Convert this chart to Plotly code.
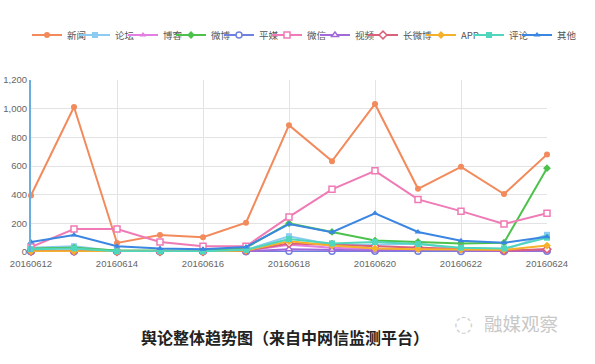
import plotly.graph_objects as go

dates = ["20160612", "20160613", "20160614", "20160615", "20160616", "20160617", "20160618",
         "20160619", "20160620", "20160621", "20160622", "20160623", "20160624"]

news = [395, 1012, 63, 118, 103, 204, 885, 634, 1033, 441, 594, 404, 681]
forum = [30, 40, 5, 5, 5, 15, 110, 50, 50, 60, 20, 15, 120]
blog = [10, 10, 3, 3, 3, 8, 50, 30, 20, 15, 10, 5, 20]
weibo = [25, 30, 10, 10, 10, 30, 200, 140, 80, 70, 60, 65, 585]
print_media = [2, 2, 2, 2, 2, 2, 5, 5, 5, 5, 3, 3, 5]
wechat = [35, 160, 160, 70, 40, 40, 245, 437, 566, 367, 285, 195, 270]
video = [3, 5, 2, 2, 2, 5, 20, 15, 10, 15, 10, 5, 10]
long_weibo = [5, 5, 3, 3, 3, 10, 60, 50, 40, 35, 25, 10, 20]
app = [5, 5, 3, 3, 3, 10, 75, 45, 25, 20, 15, 15, 45]
comment = [20, 25, 5, 5, 5, 15, 90, 60, 70, 55, 30, 25, 100]
other = [70, 118, 40, 25, 20, 35, 195, 138, 270, 140, 78, 64, 106]

# name, values, colour, marker symbol, hollow marker
series = [
    ("新闻", news, "#f28a5c", "circle", False),
    ("论坛", forum, "#8ccbf2", "square", False),
    ("博客", blog, "#e27fe0", "triangle-up", False),
    ("微博", weibo, "#4cc24c", "diamond", False),
    ("平媒", print_media, "#6f80e0", "circle", True),
    ("微信", wechat, "#f07ab5", "square", True),
    ("视频", video, "#a06ad8", "triangle-up", True),
    ("长微博", long_weibo, "#dc6079", "diamond", True),
    ("APP", app, "#f6b12a", "diamond", False),
    ("评论", comment, "#4fd6bd", "square", False),
    ("其他", other, "#3b86e2", "triangle-up", False),
]

W, H = 595, 364
L, R, T, B = 31, 48, 80, 112
PW, PH = W - L - R, H - T - B

# legend layout: one single-entry legend per series, laid out in a row
P = 48              # pitch between legend entries (px)
EXTRA = {"长微博": 10}
FIRST = 27          # left edge of first legend entry (px)
LEG_Y = 1 - 35 / H
legfont = dict(family="Noto Sans CJK SC", size=9.5, color="#555555")

fig = go.Figure()
idx = list(range(len(dates)))
legends = {}
pos = FIRST
for i, (name, vals, color, sym, hollow) in enumerate(series):
    lg = "legend" if i == 0 else f"legend{i + 1}"
    legends[lg] = dict(orientation="h", xanchor="left", yanchor="middle", yref="container",
                       x=(pos - L) / PW, y=LEG_Y, font=legfont, itemwidth=30,
                       bgcolor="rgba(0,0,0,0)")
    pos += P + EXTRA.get(name, 0)
    if hollow:
        marker = dict(symbol=sym, size=6, color="white", line=dict(color=color, width=1.5))
    else:
        marker = dict(symbol=sym, size=6, color=color, line=dict(color=color, width=0))
    fig.add_trace(go.Scatter(x=idx, y=vals, name=name, mode="lines+markers",
                             line=dict(color=color, width=2), marker=marker,
                             cliponaxis=False, legend=lg))

fig.update_layout(
    width=W, height=H,
    margin=dict(l=L, r=R, t=T, b=B, autoexpand=False),
    paper_bgcolor="white", plot_bgcolor="white",
    font=dict(family="Liberation Sans, Noto Sans CJK SC", size=10, color="#666666"),
    showlegend=True,
    **legends,
)
fig.update_xaxes(range=[0, 12], tickvals=idx[::2], ticktext=dates[::2],
                 showgrid=True, gridcolor="#e3e3e3", gridwidth=1,
                 showline=False, zeroline=False, ticks="outside", ticklen=3,
                 tickcolor="rgba(0,0,0,0)", automargin=False,
                 tickfont=dict(size=9.5, color="#666666"))
fig.update_yaxes(range=[0, 1200], dtick=200, tickformat=",d",
                 showgrid=True, gridcolor="#e3e3e3", zeroline=False,
                 showline=True, linecolor="#6aaee0", linewidth=2,
                 ticks="", automargin=False, tickfont=dict(size=9.5, color="#666666"))

fig.add_annotation(text="<b>舆论整体趋势图（来自中网信监测平台）</b>",
                   xref="paper", yref="paper", x=(285 - L) / PW, y=-(337 - (T + PH)) / PH,
                   showarrow=False, xanchor="center", yanchor="middle",
                   font=dict(family="Noto Sans CJK SC", size=16, color="#222222"))
fig.add_annotation(text="融媒观察",
                   xref="paper", yref="paper", x=(482 - L) / PW, y=-(323 - (T + PH)) / PH,
                   showarrow=False, xanchor="left", yanchor="middle",
                   font=dict(family="Noto Sans CJK SC", size=18.5, color="#c8c8c8"))
fig.add_annotation(text="◌",
                   xref="paper", yref="paper", x=(463 - L) / PW, y=-(323 - (T + PH)) / PH,
                   showarrow=False, xanchor="center", yanchor="middle",
                   font=dict(family="DejaVu Sans", size=22, color="#d0d0d0"))

fig.write_html("out.html", config={"displayModeBar": False},
               post_script="document.body.style.margin='0';")
